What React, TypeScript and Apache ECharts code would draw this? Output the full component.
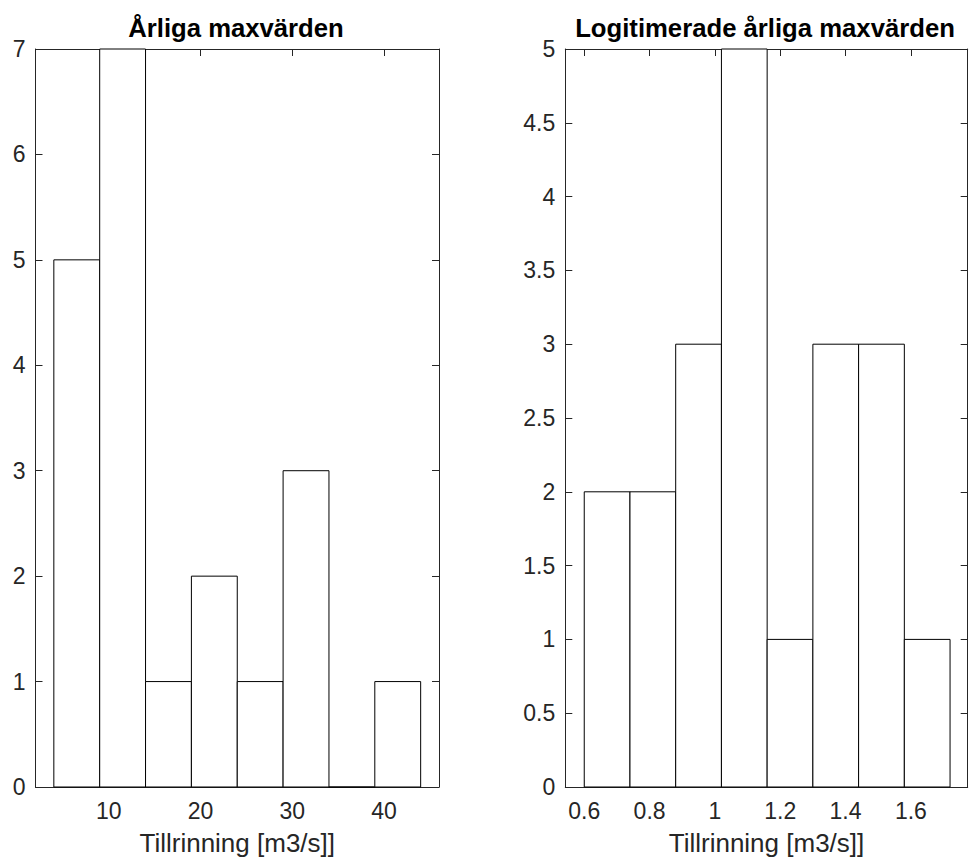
import React, { useEffect, useRef } from "react";
import * as echarts from "echarts";

// ---- Data ----
const leftTitle = "Årliga maxvärden";
const rightTitle = "Logitimerade årliga maxvärden";
const xAxisName = "Tillrinning [m3/s]]";

const leftEdges = [4, 9, 14, 19, 24, 29, 34, 39, 44];
const leftCounts = [5, 7, 1, 2, 1, 3, 0, 1];
const leftXTicks = [10, 20, 30, 40];

const rightEdges = [0.6, 0.74, 0.88, 1.02, 1.16, 1.3, 1.44, 1.58, 1.72];
const rightCounts = [2, 2, 3, 5, 1, 3, 3, 1];
const rightXTicks = [0.6, 0.8, 1, 1.2, 1.4, 1.6];

const FONT = '"Liberation Sans", Arial, Helvetica, sans-serif';
const AXIS_COLOR = "#262626";

function binsData(edges: number[], counts: number[]) {
  return counts.map((c, i) => [edges[i], edges[i + 1], c]);
}

export default function App() {
  const ref = useRef<HTMLDivElement>(null);

  useEffect(() => {
    if (!ref.current) return;
    const chart = echarts.init(ref.current, null, { renderer: "svg" });

    const grids = [
      { left: 35.5, top: 49, width: 403.5, height: 738 },
      { left: 565.3, top: 49, width: 402.4, height: 738 },
    ];

    const lineStyle = { color: AXIS_COLOR, width: 1 };
    const tickStyle = { color: AXIS_COLOR, width: 1 };

    const makeX = (gi: number, min: number, max: number, ticks: number[], pos: "bottom" | "top") => ({
      type: "value",
      gridIndex: gi,
      position: pos,
      min,
      max,
      axisLine: { show: true, onZero: false, lineStyle },
      axisTick: { show: true, inside: true, length: 7, lineStyle: tickStyle, customValues: ticks },
      axisLabel: {
        show: pos === "bottom",
        customValues: ticks,
        color: AXIS_COLOR,
        fontSize: 23,
        fontFamily: FONT,
        margin: 12,
      },
      splitLine: { show: false },
      name: pos === "bottom" ? xAxisName : "",
      nameLocation: "middle",
      nameGap: 43,
      nameTextStyle: { color: AXIS_COLOR, fontSize: 26, fontFamily: FONT },
    });

    const makeY = (gi: number, max: number, interval: number, pos: "left" | "right") => ({
      type: "value",
      gridIndex: gi,
      position: pos,
      min: 0,
      max,
      interval,
      axisLine: { show: true, onZero: false, lineStyle },
      axisTick: { show: true, inside: true, length: 7, lineStyle: tickStyle },
      axisLabel: {
        show: pos === "left",
        color: AXIS_COLOR,
        fontSize: 23,
        fontFamily: FONT,
        margin: 10,
      },
      splitLine: { show: false },
    });

    const renderBin = (params: any, api: any) => {
      const x0 = api.value(0);
      const x1 = api.value(1);
      const c = api.value(2);
      const p0 = api.coord([x0, 0]);
      const p1 = api.coord([x1, c]);
      return {
        type: "rect",
        shape: { x: p0[0], y: p1[1], width: p1[0] - p0[0], height: p0[1] - p1[1] },
        style: { fill: "#ffffff", stroke: "#000000", lineWidth: 1 },
      };
    };

    chart.setOption({
      animation: false,
      backgroundColor: "#ffffff",
      title: [
        {
          text: leftTitle,
          left: 231,
          top: 10,
          textAlign: "center",
          textStyle: { fontSize: 25.7, fontWeight: "bold", color: "#000", fontFamily: FONT },
        },
        {
          text: rightTitle,
          left: 760,
          top: 10,
          textAlign: "center",
          textStyle: { fontSize: 25.7, fontWeight: "bold", color: "#000", fontFamily: FONT },
        },
      ],
      grid: grids,
      xAxis: [
        makeX(0, 2, 46, leftXTicks, "bottom"),
        makeX(0, 2, 46, leftXTicks, "top"),
        makeX(1, 0.542, 1.774, rightXTicks, "bottom"),
        makeX(1, 0.542, 1.774, rightXTicks, "top"),
      ],
      yAxis: [
        makeY(0, 7, 1, "left"),
        makeY(0, 7, 1, "right"),
        makeY(1, 5, 0.5, "left"),
        makeY(1, 5, 0.5, "right"),
      ],
      series: [
        {
          type: "custom",
          xAxisIndex: 0,
          yAxisIndex: 0,
          renderItem: renderBin,
          encode: { x: [0, 1], y: 2 },
          data: binsData(leftEdges, leftCounts),
          z: 1,
        },
        {
          type: "custom",
          xAxisIndex: 2,
          yAxisIndex: 2,
          renderItem: renderBin,
          encode: { x: [0, 1], y: 2 },
          data: binsData(rightEdges, rightCounts),
          z: 1,
        },
      ],
    });

    return () => chart.dispose();
  }, []);

  return (
    <div
      ref={ref}
      style={{ position: "absolute", left: 0, top: 0, width: 969, height: 865, background: "#fff" }}
    />
  );
}
